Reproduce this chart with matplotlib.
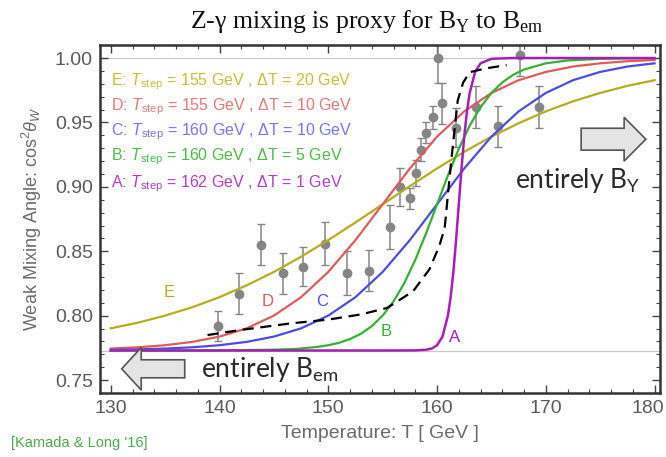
import matplotlib
matplotlib.use("Agg")
import matplotlib.pyplot as plt
from matplotlib.ticker import MultipleLocator
from matplotlib.patches import FancyArrow
from matplotlib.transforms import ScaledTranslation

plt.rcParams['font.family'] = ['Liberation Sans', 'DejaVu Sans']
plt.rcParams['mathtext.fontset'] = 'custom'
plt.rcParams['mathtext.rm'] = 'Liberation Sans'
plt.rcParams['mathtext.it'] = 'Liberation Sans:italic'
plt.rcParams['mathtext.bf'] = 'Liberation Sans:bold'

# ---------------- data ----------------
T_E = [130, 132.5, 135, 137.5, 140, 142.5, 145, 147.5, 150, 152.5, 155, 157.5, 160,
       162.5, 165, 167.5, 170, 172.5, 175, 177.5, 180]
y_E = [0.7902, 0.7946, 0.8001, 0.8066, 0.8144, 0.8236, 0.8340, 0.8458, 0.8587, 0.8724,
       0.8865, 0.9006, 0.9143, 0.9272, 0.9390, 0.9494, 0.9586, 0.9664, 0.9729, 0.9784, 0.9828]

T_D = [130, 132.5, 135, 137.5, 140, 142.5, 145, 147.5, 150, 152.5, 155, 157.5, 160,
       162.5, 165, 167.5, 170, 172.5, 175, 177.5, 180]
y_D = [0.7745, 0.7755, 0.7771, 0.7797, 0.7838, 0.7902, 0.8001, 0.8144, 0.8340, 0.8587,
       0.8865, 0.9143, 0.9390, 0.9586, 0.9729, 0.9828, 0.9892, 0.9934, 0.9959, 0.9975, 0.9985]

T_C = [130, 132.5, 135, 137.5, 140, 142.5, 145, 147.5, 150, 152.5, 155, 157.5, 160,
       162.5, 165, 167.5, 170, 172.5, 175, 177.5, 180]
y_C = [0.7736, 0.7739, 0.7745, 0.7755, 0.7771, 0.7797, 0.7838, 0.7902, 0.8001, 0.8144,
       0.8340, 0.8587, 0.8865, 0.9143, 0.9390, 0.9586, 0.9729, 0.9828, 0.9892, 0.9934, 0.9959]

T_B = [130, 140, 145, 147, 149, 150, 151, 152, 153, 154, 155, 156, 157, 158, 159, 160,
       161, 162, 163, 164, 165, 166, 167, 168, 170, 172, 175, 180]
y_B = [0.7730, 0.7731, 0.7736, 0.7742, 0.7758, 0.7771, 0.7790, 0.7819, 0.7860, 0.7919,
       0.8001, 0.8111, 0.8255, 0.8434, 0.8641, 0.8865, 0.9089, 0.9296, 0.9475, 0.9619,
       0.9729, 0.9811, 0.9870, 0.9911, 0.9959, 0.9981, 0.9994, 0.9999]

T_A = [130, 155, 158, 159, 159.5, 160, 160.5, 161, 161.25, 161.5, 161.75, 162, 162.25,
       162.5, 162.75, 163, 163.5, 164, 165, 167, 180]
y_A = [0.7730, 0.7730, 0.7731, 0.7736, 0.7745, 0.7771, 0.7838, 0.8001, 0.8144, 0.8340,
       0.8587, 0.8865, 0.9143, 0.9390, 0.9586, 0.9729, 0.9892, 0.9959, 0.9994, 1.0, 1.0]

T_dash = [138.9, 142, 146.5, 150, 153, 155.4, 157.8, 159.3, 160.2, 160.7, 161.3, 161.9,
          162.4, 163.0, 164.5, 166.4]
y_dash = [0.785, 0.789, 0.794, 0.797, 0.801, 0.806, 0.819, 0.836, 0.854, 0.868, 0.920,
          0.967, 0.981, 0.989, 0.992, 0.9945]

T_pts = [139.9, 141.8, 143.8, 145.8, 147.7, 149.7, 151.7, 153.7, 155.7, 156.6, 157.5,
         158.1, 158.5, 159.0, 159.6, 160.1, 160.5, 161.7, 163.6, 165.6, 167.6, 169.4]
y_pts = [0.792, 0.817, 0.855, 0.833, 0.838, 0.856, 0.833, 0.835, 0.869, 0.900, 0.891,
         0.911, 0.929, 0.942, 0.954, 1.000, 0.965, 0.946, 0.962, 0.947, 1.002, 0.962]
e_pts = [0.012, 0.016, 0.016, 0.016, 0.015, 0.017, 0.017, 0.016, 0.017, 0.015, 0.008,
         0.010, 0.009, 0.008, 0.009, 0.019, 0.016, 0.015, 0.016, 0.016, 0.016, 0.016]

y_low, y_high = 0.773, 1.0

legend_lines = [
    ("E", "155", "20", '#c6be3e'),
    ("D", "155", "10", '#e27878'),
    ("C", "160", "10", '#7777e0'),
    ("B", "160", "5", '#4fb84f'),
    ("A", "162", "1", '#b040c0'),
]

curve_colors = {'E': '#b5ad1f', 'D': '#e05a5a', 'C': '#4c4ce0', 'B': '#35b035', 'A': '#a51fb5'}
curve_labels = {'E': (135.4, 0.818), 'D': (144.4, 0.811), 'C': (149.4, 0.811),
                'B': (155.3, 0.788), 'A': (161.6, 0.783)}

# ---------------- figure ----------------
fig = plt.figure(figsize=(6.66, 4.57), dpi=100)
ax = fig.add_axes([0.150, 0.140, 0.841, 0.7615])
ax.set_xlim(129.0, 180.5)
ax.set_ylim(0.74, 1.0101)

ax.axhline(y_low, color='#c8c8c8', lw=0.9, zorder=1)
ax.axhline(y_high, color='#c8c8c8', lw=0.9, zorder=1)

ax.errorbar(T_pts, y_pts, yerr=e_pts, fmt='o', color='#858585', ms=6, elinewidth=1.1,
            capsize=3, capthick=1.0, zorder=2, clip_on=True)

ax.plot(T_E, y_E, color=curve_colors['E'], lw=1.6, zorder=3)
ax.plot(T_D, y_D, color=curve_colors['D'], lw=1.6, zorder=3)
ax.plot(T_C, y_C, color=curve_colors['C'], lw=1.6, zorder=3)
ax.plot(T_B, y_B, color=curve_colors['B'], lw=1.6, zorder=3)
ax.plot(T_A, y_A, color=curve_colors['A'], lw=1.8, zorder=3)
ax.plot(T_dash, y_dash, color='black', lw=1.6, ls=(0, (5, 3)), zorder=4)

for k, (x, y) in curve_labels.items():
    ax.text(x, y, k, color=curve_colors[k], fontsize=12, ha='center', va='center', zorder=5)

legend_y = [0.9816, 0.9622, 0.9428, 0.9234, 0.9028]
for (lab, ts, dt, col), yy in zip(legend_lines, legend_y):
    ax.text(130.05, yy, lab + r": $T_{\rm step}$ = " + ts + " GeV , \u0394T = " + dt + " GeV",
            color=col, fontsize=11.5, ha='left', va='center', zorder=5)

# arrows
ax.add_patch(FancyArrow(136.8, 0.7588, -5.8, 0, width=0.014, head_width=0.033,
                        head_length=1.8, length_includes_head=True, fc='#e4e4e4',
                        ec='#555555', lw=1.2, zorder=6))
ax.add_patch(FancyArrow(173.25, 0.937, 5.95, 0, width=0.017, head_width=0.034,
                        head_length=2.0, length_includes_head=True, fc='#e4e4e4',
                        ec='#555555', lw=1.2, zorder=6))
ax.text(138.3, 0.758, r"entirely B$_\mathregular{em}$", fontsize=19, family='Lato',
        color='#2a2a2a', ha='left', va='center', zorder=6)
ax.text(167.2, 0.905, r"entirely B$_\mathregular{Y}$", fontsize=19, family='Lato',
        color='#2a2a2a', ha='left', va='center', zorder=6)

# axes styling
ax.xaxis.set_major_locator(MultipleLocator(10))
ax.xaxis.set_minor_locator(MultipleLocator(2))
ax.yaxis.set_major_locator(MultipleLocator(0.05))
ax.yaxis.set_minor_locator(MultipleLocator(0.01))
ax.yaxis.set_major_formatter(matplotlib.ticker.FormatStrFormatter('%.2f'))
ax.tick_params(which='both', direction='in', top=True, right=True, color='#444444',
               labelcolor='#5a5a5a', labelsize=14)
ax.tick_params(which='major', length=6, width=1.0, pad=5)
ax.tick_params(which='minor', length=3, width=0.8)
for s in ax.spines.values():
    s.set_color('#333333')
    s.set_linewidth(1.8)

fig.canvas.draw()
for lbl in ax.get_xticklabels():
    if lbl.get_text() == '180':
        lbl.set_horizontalalignment('right')
        lbl.set_transform(lbl.get_transform() + ScaledTranslation(0.10, 0, fig.dpi_scale_trans))

ax.set_xlabel("Temperature: T [ GeV ]", fontsize=14, color='#6a6a6a', labelpad=6)
ax.set_ylabel(r"Weak Mixing Angle: cos$^2\theta_W$", fontsize=13, color='#6a6a6a', labelpad=8)

fig.text(0.55, 0.952, "Z-\u03b3 mixing is proxy for B$_\\mathregular{Y}$ to B$_\\mathregular{em}$",
         fontsize=18.5, family='Liberation Serif', ha='center', va='center', color='#111111')
fig.text(0.016, 0.030, "[Kamada & Long '16]", fontsize=10.5, color='#4ea84e', ha='left', va='center')

fig.savefig("out.png", dpi=100)
